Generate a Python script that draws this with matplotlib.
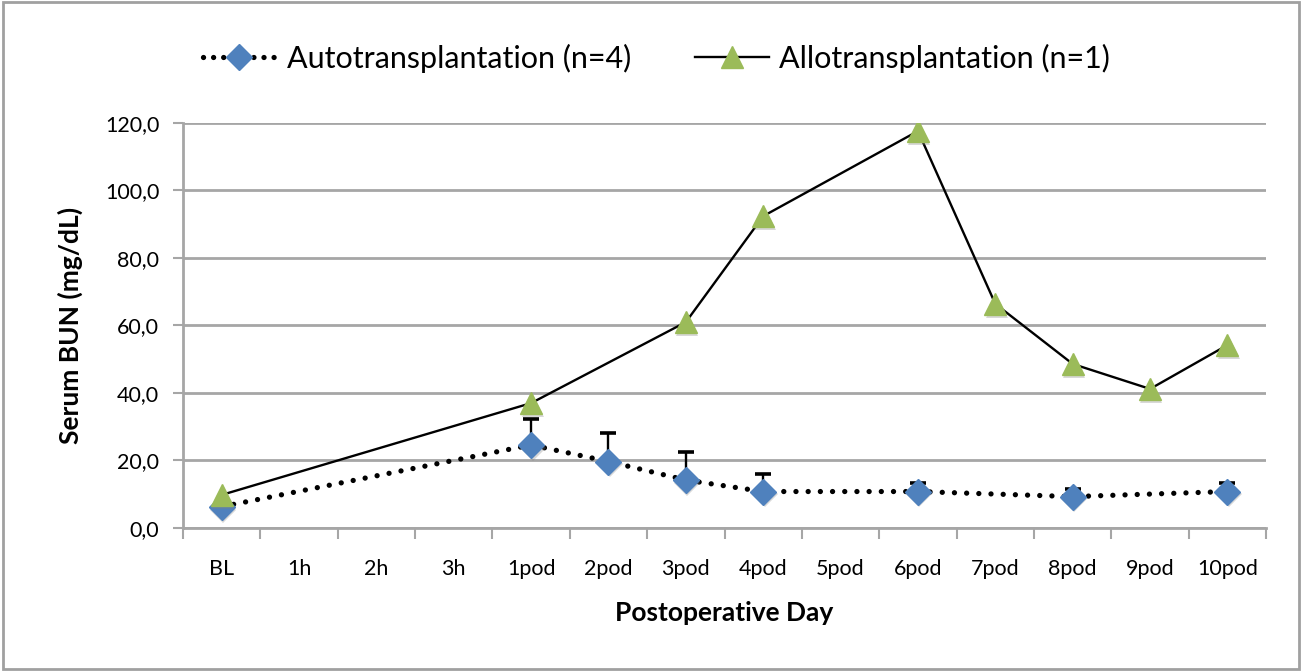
import numpy as np
import matplotlib
matplotlib.use("Agg")
import matplotlib.pyplot as plt
import matplotlib.transforms as mtransforms
from matplotlib.lines import Line2D
from matplotlib.patches import Rectangle

plt.rcParams['font.family'] = ['Lato', 'DejaVu Sans']

categories = ["BL", "1h", "2h", "3h", "1pod", "2pod", "3pod", "4pod",
              "5pod", "6pod", "7pod", "8pod", "9pod", "10pod"]
# None = no measurement at that time point
auto_mean = [6.3, None, None, None, 24.6, 19.7, 14.2, 10.8,
             None, 10.8, None, 9.3, None, 10.8]
auto_err = [1.0, None, None, None, 7.6, 8.5, 8.4, 5.1,
            None, 2.6, None, 2.4, None, 2.6]
allo_vals = [9.8, None, None, None, 37.0, None, 61.0, 92.4,
             None, 117.6, 66.4, 48.6, 41.2, 54.2]

yticks = [0, 20, 40, 60, 80, 100, 120]

fig = plt.figure(figsize=(13.05, 6.72), dpi=100)
ax = fig.add_axes([0.1402, 0.2143, 0.830, 0.6027])

blue = "#4F81BD"
green = "#9BBB59"
grid_c = "#A6A6A6"

ax_i = [i for i, v in enumerate(auto_mean) if v is not None]
ax_y = [auto_mean[i] for i in ax_i]
ax_e = [auto_err[i] for i in ax_i]
al_i = [i for i, v in enumerate(allo_vals) if v is not None]
al_y = [allo_vals[i] for i in al_i]

dots = (0, (0.01, 2.3))
shadow_tr = mtransforms.offset_copy(ax.transData, fig=fig, x=1.0, y=-2.0, units="points")

# allo line
ax.plot(al_i, al_y, color="black", lw=1.7, zorder=3)
# auto dotted line
ax.plot(ax_i, ax_y, color="black", lw=3.8, linestyle=dots,
        dash_capstyle="round", zorder=3)
# error bars (upper only)
tops = [y + e for y, e in zip(ax_y, ax_e)]
ax.vlines(ax_i, ax_y, tops, color="black", lw=1.7, zorder=4)
ax.plot(ax_i, tops, linestyle="none", marker="_", markersize=12,
        markeredgewidth=2.6, color="black", zorder=4)
# soft marker shadows
ax.plot(ax_i, ax_y, linestyle="none", marker="D", markersize=13.5, color="#808080",
        alpha=0.3, markeredgewidth=0, transform=shadow_tr, zorder=4.5)
ax.plot(al_i, al_y, linestyle="none", marker="^", markersize=16, color="#808080",
        alpha=0.3, markeredgewidth=0, transform=shadow_tr, zorder=5.5)
# markers
ax.plot(ax_i, ax_y, linestyle="none", marker="D", markersize=13,
        color=blue, markeredgecolor=blue, zorder=5)
ax.plot(al_i, al_y, linestyle="none", marker="^", markersize=15.5,
        color=green, markeredgecolor=green, zorder=6)

ax.set_xlim(-0.5, len(categories) - 0.5)
ax.set_ylim(0, 120)
ax.set_yticks(yticks)
ax.set_yticklabels([f"{t:.1f}".replace(".", ",") for t in yticks], fontsize=15.5)
ax.set_xticks(range(len(categories)))
ax.set_xticklabels(categories, fontsize=15.5)
ax.set_xticks(np.arange(-0.5, len(categories)), minor=True)
ax.tick_params(axis="x", which="major", length=0, pad=22)
ax.tick_params(axis="x", which="minor", length=8, width=1.5, color=grid_c)
ax.tick_params(axis="y", length=7, width=1.5, color=grid_c, pad=10)
ax.yaxis.grid(True, color=grid_c, lw=2)
ax.set_axisbelow(True)
for s in ["top", "right"]:
    ax.spines[s].set_visible(False)
for s in ["left", "bottom"]:
    ax.spines[s].set_color(grid_c)
    ax.spines[s].set_linewidth(2)

ax.set_ylabel("Serum BUN (mg/dL)", fontsize=19, fontweight="bold", labelpad=16)
ax.set_xlabel("Postoperative Day", fontsize=19, fontweight="bold", labelpad=16)

handles = [
    Line2D([], [], color="black", lw=3.8, linestyle=(0, (0.01, 1.9)), dash_capstyle="round",
           marker="D", markersize=13, markerfacecolor=blue, markeredgecolor=blue),
    Line2D([], [], color="black", lw=1.7, marker="^", markersize=15.5,
           markerfacecolor=green, markeredgecolor=green),
]
fig.legend(handles, ["Autotransplantation (n=4)", "Allotransplantation (n=1)"],
           loc="center", bbox_to_anchor=(0.503, 0.913), ncol=2, frameon=False,
           fontsize=22, handlelength=2.4, handletextpad=0.35, columnspacing=2.1)

fig.patches.append(Rectangle((0.002, 0.0045), 0.9935, 0.9925, transform=fig.transFigure,
                             fill=False, edgecolor="#A0A0A0", lw=2))

fig.savefig("out.png", dpi=100)
